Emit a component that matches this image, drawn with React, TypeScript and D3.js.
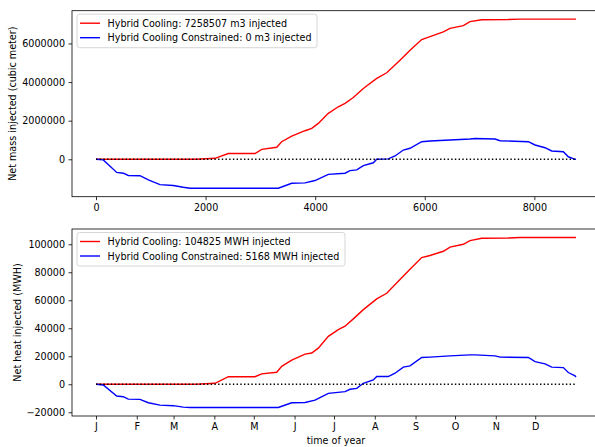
import React, { useEffect, useRef } from "react";
import * as d3 from "d3";

// hours of year at which the curves were read
const coolingHours = [0, 1825, 2172, 2415, 2902, 3024, 3298, 3389, 3572, 3815, 3937, 4057, 4240, 4422, 4545, 4696, 4879, 5123, 5306, 5548, 5731, 5944, 6096, 6339, 6461, 6704, 6826, 7040, 7520, 7740, 8760];
const constrainedHours = [0, 133, 378, 498, 590, 803, 955, 1168, 1411, 1593, 1716, 3327, 3572, 3815, 3997, 4240, 4545, 4636, 4758, 4879, 5061, 5123, 5335, 5457, 5609, 5731, 5944, 6096, 6461, 6826, 6917, 7282, 7374, 7891, 8013, 8195, 8317, 8529, 8620, 8743, 8760];

const massCooling = [0, 0, 50000, 300000, 300000, 517000, 620000, 910000, 1200000, 1480000, 1600000, 1860000, 2380000, 2720000, 2900000, 3200000, 3670000, 4190000, 4480000, 5130000, 5650000, 6200000, 6350000, 6600000, 6780000, 6920000, 7130000, 7230000, 7240000, 7258507, 7258507];
const massConstrained = [0, -30000, -680000, -720000, -840000, -850000, -1070000, -1310000, -1360000, -1450000, -1500000, -1500000, -1240000, -1220000, -1100000, -780000, -720000, -590000, -550000, -330000, -180000, 0, 20000, 170000, 480000, 570000, 910000, 945000, 1000000, 1050000, 1080000, 1050000, 960000, 910000, 740000, 600000, 430000, 390000, 130000, 0, 0];

const heatCooling = [0, 0, 700, 5400, 5400, 7400, 8600, 12800, 17200, 21500, 22300, 25800, 34200, 39000, 41500, 46700, 53300, 61000, 65000, 74900, 82100, 90500, 92000, 95000, 98000, 100000, 102600, 104300, 104500, 104825, 104825];
const heatConstrained = [0, -500, -8400, -8900, -10600, -10800, -13200, -14900, -15300, -16300, -16600, -16600, -13200, -13000, -11300, -6500, -5300, -3600, -2900, 700, 3100, 5500, 5500, 7900, 12200, 13100, 19100, 19400, 20300, 21000, 21000, 20300, 19400, 19100, 16200, 14600, 12200, 11900, 8400, 5950, 5168];

const hourTicks = [0, 2000, 4000, 6000, 8000];
const monthStarts = [0, 744, 1416, 2160, 2880, 3624, 4344, 5088, 5832, 6552, 7296, 8016];
const monthLabels = ["J", "F", "M", "A", "M", "J", "J", "A", "S", "O", "N", "D"];
const massTicks = [0, 2000000, 4000000, 6000000];
const heatTicks = [-20000, 0, 20000, 40000, 60000, 80000, 100000];

const FONT = "DejaVu Sans, sans-serif";
const FS = 9.6;
const LEFT = 72;
const RIGHT = 600;

const x = d3.scaleLinear().domain([-438, 9198]).range([LEFT, RIGHT]);

const Panel = props => {
  const ref = useRef(null);

  useEffect(() => {
    const g = d3.select(ref.current);
    g.selectAll("*").remove();

    const all = [...props.red, ...props.blue];
    const lo = d3.min(all), hi = d3.max(all);
    const pad = (hi - lo) * 0.05;
    const y = d3.scaleLinear().domain([lo - pad, hi + pad]).range([props.bottom, props.top]);

    const line = (hours) => d3.line().x((d, i) => x(hours[i])).y(d => y(d));

    g.append("path")
      .attr("d", line(coolingHours)(props.red))
      .attr("fill", "none").attr("stroke", "#ff0000").attr("stroke-width", 1.4);
    g.append("path")
      .attr("d", line(constrainedHours)(props.blue))
      .attr("fill", "none").attr("stroke", "#0000ff").attr("stroke-width", 1.4);
    g.append("line")
      .attr("x1", x(0)).attr("x2", x(8760)).attr("y1", y(0)).attr("y2", y(0))
      .attr("stroke", "#000").attr("stroke-width", 1.4).attr("stroke-dasharray", "1.4,2.3");

    // spines
    g.append("rect")
      .attr("x", LEFT).attr("y", props.top)
      .attr("width", RIGHT - LEFT).attr("height", props.bottom - props.top)
      .attr("fill", "none").attr("stroke", "#000").attr("stroke-width", 0.8);

    const fmt = v => (v < 0 ? "\u2212" + Math.abs(v) : String(v));

    const yAxis = d3.axisLeft(y).tickValues(props.yTicks).tickFormat(fmt)
      .tickSize(3.5).tickPadding(3.5).tickSizeOuter(0);
    const ya = g.append("g").attr("transform", `translate(${LEFT},0)`).call(yAxis);
    ya.select(".domain").remove();

    const xAxis = d3.axisBottom(x).tickValues(props.xTicks)
      .tickFormat((d, i) => (props.xLabels ? props.xLabels[i] : String(d)))
      .tickSize(3.5).tickPadding(3.5).tickSizeOuter(0);
    const xa = g.append("g").attr("transform", `translate(0,${props.bottom})`).call(xAxis);
    xa.select(".domain").remove();

    [ya, xa].forEach(a => {
      a.selectAll("text").attr("font-family", FONT).attr("font-size", FS).attr("fill", "#000");
      a.selectAll("line").attr("stroke", "#000").attr("stroke-width", 0.8);
    });

    g.append("text")
      .attr("transform", `translate(${props.yLabelX},${(props.top + props.bottom) / 2}) rotate(-90)`)
      .attr("text-anchor", "middle").attr("dominant-baseline", "central")
      .attr("font-family", FONT).attr("font-size", FS)
      .text(props.yLabel);

    if (props.xLabel) {
      g.append("text")
        .attr("x", (LEFT + RIGHT) / 2).attr("y", props.bottom + 24)
        .attr("text-anchor", "middle").attr("dominant-baseline", "central")
        .attr("font-family", FONT).attr("font-size", FS)
        .text(props.xLabel);
    }

    // legend
    const lg = g.append("g").attr("transform", `translate(${LEFT + 5},${props.top + 3.5})`);
    lg.append("rect")
      .attr("width", props.legendWidth).attr("height", 33.5).attr("rx", 2.5)
      .attr("fill", "#fff").attr("fill-opacity", 0.8)
      .attr("stroke", "#cccccc").attr("stroke-width", 0.8);
    props.legend.forEach((t, i) => {
      const yy = 9 + i * 14.5;
      lg.append("line")
        .attr("x1", 3).attr("x2", 23).attr("y1", yy).attr("y2", yy)
        .attr("stroke", i === 0 ? "#ff0000" : "#0000ff").attr("stroke-width", 1.4);
      lg.append("text")
        .attr("x", 30.5).attr("y", yy)
        .attr("dominant-baseline", "central")
        .attr("font-family", FONT).attr("font-size", FS)
        .text(t);
    });
  }, [props]);

  return <g ref={ref} />;
};

const App = () => (
  <svg width={595} height={447} style={{ position: "absolute", left: 0, top: 0, background: "#fff" }}>
    <Panel
      top={10.7}
      bottom={196.7}
      red={massCooling}
      blue={massConstrained}
      yTicks={massTicks}
      xTicks={hourTicks}
      yLabel="Net mass injected (cubic meter)"
      yLabelX={12.7}
      legendWidth={240}
      legend={["Hybrid Cooling: 7258507 m3 injected", "Hybrid Cooling Constrained: 0 m3 injected"]}
    />
    <Panel
      top={229}
      bottom={416}
      red={heatCooling}
      blue={heatConstrained}
      yTicks={heatTicks}
      xTicks={monthStarts}
      xLabels={monthLabels}
      xLabel="time of year"
      yLabel="Net heat injected (MWH)"
      yLabelX={17.3}
      legendWidth={268}
      legend={["Hybrid Cooling: 104825 MWH injected", "Hybrid Cooling Constrained: 5168 MWH injected"]}
    />
  </svg>
);

export default App;
